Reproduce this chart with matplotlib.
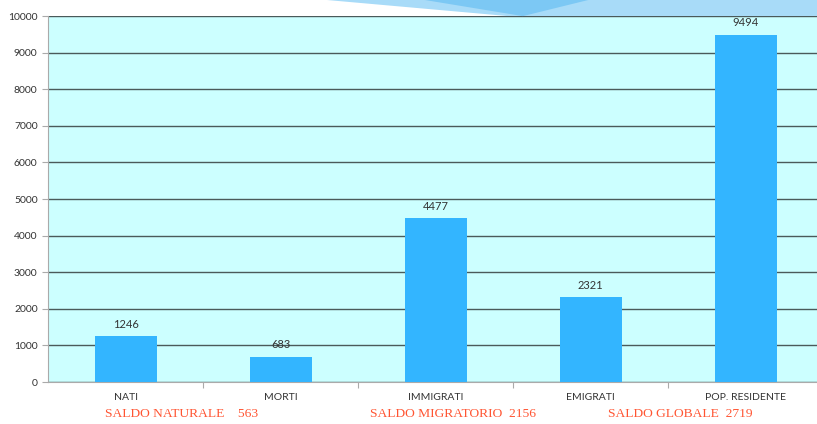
import matplotlib
matplotlib.use("Agg")
import matplotlib.pyplot as plt
from matplotlib.patches import Polygon

categories = ["NATI", "MORTI", "IMMIGRATI", "EMIGRATI", "POP. RESIDENTE"]
values = [1246, 683, 4477, 2321, 9494]
saldo_labels = ["SALDO NATURALE    563", "SALDO MIGRATORIO  2156", "SALDO GLOBALE  2719"]
saldo_pos = [0.36, 2.11, 3.58]

fig = plt.figure(figsize=(8.17, 4.24), dpi=100)
fig.patch.set_facecolor("white")

# decorative wave at the top right
fig.patches.append(Polygon([(0.40, 1.0), (1.0, 1.0), (1.0, 0.962), (0.62, 0.962)],
                           closed=True, transform=fig.transFigure,
                           facecolor="#a8dbf8", edgecolor="none", zorder=0))
fig.patches.append(Polygon([(0.52, 1.0), (0.72, 1.0), (0.64, 0.962)],
                           closed=True, transform=fig.transFigure,
                           facecolor="#7cc8f4", edgecolor="none", zorder=0))

ax = fig.add_axes([0.0588, 0.099, 0.9412, 0.863])
ax.set_facecolor("#ccffff")

x = range(len(categories))
ax.bar(x, values, width=0.4, color="#33b5ff", zorder=3)
for xi, v in zip(x, values):
    ax.text(xi, v + 180, str(v), ha="center", va="bottom",
            fontsize=8, color="#333333", family="Lato", zorder=4)

ax.set_ylim(0, 10000)
ax.set_xlim(-0.5, 4.46)
ax.set_yticks(range(0, 10001, 1000))
ax.yaxis.grid(True, color="#4a5a5a", linewidth=1.0, zorder=1)
ax.set_axisbelow(True)

ax.set_xticks([i + 0.5 for i in range(4)], minor=False)
ax.set_xticklabels([])
ax.tick_params(axis="x", length=4, color="#aaaaaa", direction="out")
ax.set_xticks(list(x), minor=True)
ax.set_xticklabels(categories, minor=True, fontsize=7.5, color="#333333", family="Lato")
ax.tick_params(axis="x", which="minor", length=0, pad=8)
ax.tick_params(axis="y", length=4, color="#aaaaaa", labelsize=7.5, labelcolor="#333333")
for lab in ax.get_yticklabels():
    lab.set_family("Lato")

for s in ["top", "right"]:
    ax.spines[s].set_visible(False)
ax.spines["left"].set_color("#aaaaaa")
ax.spines["bottom"].set_color("#aaaaaa")

for lab, px in zip(saldo_labels, saldo_pos):
    ax.text(px, -0.087, lab, transform=ax.get_xaxis_transform(), ha="center", va="center",
            fontsize=9.7, color="#ff5533", family="Liberation Serif")

fig.savefig("out.png", dpi=100)
